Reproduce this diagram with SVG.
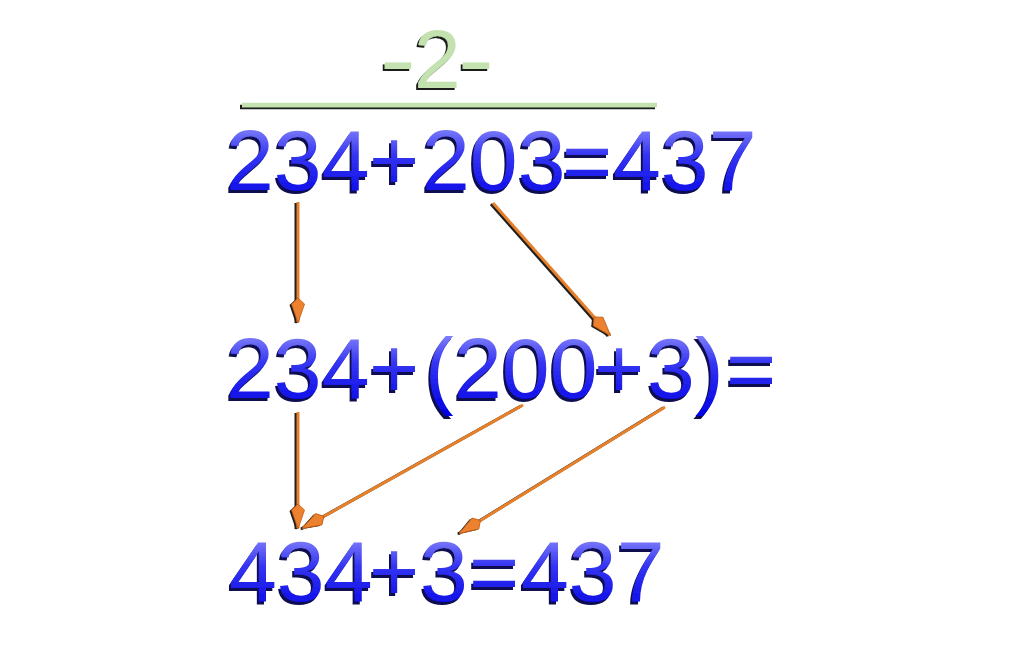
<svg xmlns="http://www.w3.org/2000/svg" width="1012" height="656" viewBox="0 0 1012 656">
<defs>
<linearGradient id="blue" x1="0" y1="0" x2="0" y2="1">
<stop offset="0" stop-color="#a8a8ff"/>
<stop offset="0.45" stop-color="#3434f2"/>
<stop offset="1" stop-color="#0000e4"/>
</linearGradient>
<filter id="shBlue" x="-10%" y="-10%" width="120%" height="130%">
<feOffset in="SourceAlpha" dx="-2.5" dy="2.5" result="o"/>
<feFlood flood-color="#101050"/>
<feComposite in2="o" operator="in" result="s"/>
<feMerge><feMergeNode in="s"/><feMergeNode in="SourceGraphic"/></feMerge>
</filter>
<filter id="shDark" x="-10%" y="-10%" width="120%" height="130%">
<feOffset in="SourceAlpha" dx="-2" dy="2" result="o"/>
<feFlood flood-color="#1a1a1a"/>
<feComposite in2="o" operator="in" result="s"/>
<feMerge><feMergeNode in="s"/><feMergeNode in="SourceGraphic"/></feMerge>
</filter>
<marker id="head" viewBox="0 0 26 14" refX="25" refY="7" markerWidth="26" markerHeight="14" markerUnits="userSpaceOnUse" orient="auto">
<path d="M1,7 L7,0.5 L26,7 L7,13.5 Z" fill="#ec8230" stroke="#c05a10" stroke-width="0.8"/>
</marker>
<marker id="headShadow" viewBox="0 0 26 14" refX="25" refY="7" markerWidth="26" markerHeight="14" markerUnits="userSpaceOnUse" orient="auto">
<path d="M1,7 L7,0.5 L26,7 L7,13.5 Z" fill="#202020"/>
</marker>
</defs>
<style>
.eq{font-family:"Liberation Sans",Arial,sans-serif;font-size:86px;fill:url(#blue);filter:url(#shBlue);}
.title{font-family:"Liberation Sans",Arial,sans-serif;font-size:84px;fill:#c4e2b0;}
.arrow{stroke:#e8802a;stroke-width:3;fill:none;marker-end:url(#head);}
.ashadow{stroke:#202020;stroke-width:3;fill:none;marker-end:url(#headShadow);}
</style>
<rect width="1012" height="656" fill="#ffffff"/>

<g id="title" filter="url(#shDark)">
<text class="title" x="380" y="88" textLength="36" lengthAdjust="spacingAndGlyphs">-</text>
<text class="title" x="414" y="88">2</text>
<text class="title" x="458" y="88" textLength="36" lengthAdjust="spacingAndGlyphs">-</text>
<line x1="242" y1="105" x2="657" y2="105" stroke="#c4e2b0" stroke-width="4.5"/>
</g>

<g id="line1">
<text class="eq" y="190"><tspan x="226">234</tspan><tspan x="369">+</tspan><tspan x="422">203</tspan><tspan x="562">=</tspan><tspan x="613">437</tspan></text>
</g>

<g id="line2">
<text class="eq" y="398"><tspan x="226">234</tspan><tspan x="369">+</tspan><tspan x="425">(</tspan><tspan x="454">200</tspan><tspan x="594">+</tspan><tspan x="647">3</tspan><tspan x="695">)</tspan><tspan x="726">=</tspan></text>
</g>

<g id="line3">
<text class="eq" y="601"><tspan x="229">434</tspan><tspan x="369">+</tspan><tspan x="420">3</tspan><tspan x="469">=</tspan><tspan x="521">437</tspan></text>
</g>

<g id="connectors">
<g transform="translate(-2,1)">
<line class="ashadow" x1="298" y1="202" x2="298" y2="322"/>
<line class="ashadow" x1="493" y1="203" x2="610" y2="335"/>
<line class="ashadow" x1="298" y1="412" x2="298" y2="528"/>
<line class="ashadow" x1="523" y1="405" x2="303" y2="528"/>
<line class="ashadow" x1="665" y1="407" x2="460" y2="533"/>
</g>
<line class="arrow" x1="298" y1="202" x2="298" y2="322"/>
<line class="arrow" x1="493" y1="203" x2="610" y2="335"/>
<line class="arrow" x1="298" y1="412" x2="298" y2="528"/>
<line class="arrow" x1="523" y1="405" x2="303" y2="528"/>
<line class="arrow" x1="665" y1="407" x2="460" y2="533"/>
</g>
</svg>
